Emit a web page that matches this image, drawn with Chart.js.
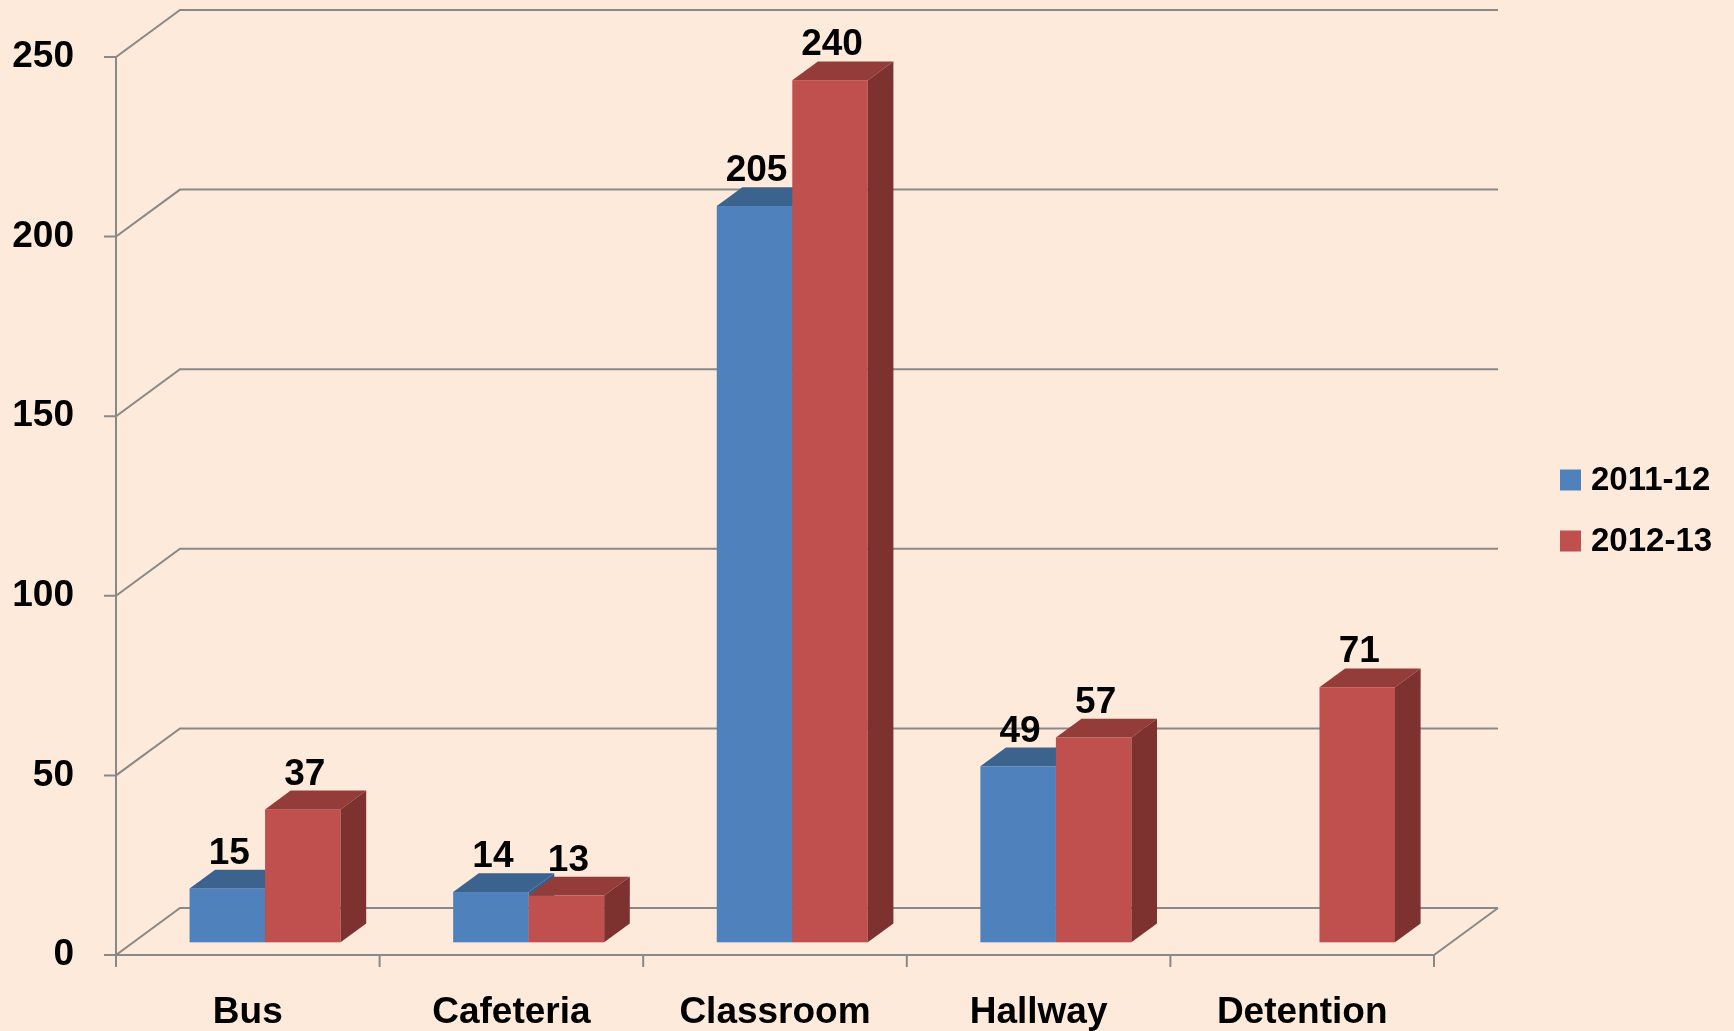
<!DOCTYPE html>
<html>
<head>
<meta charset="utf-8">
<script src="https://cdn.jsdelivr.net/npm/chart.js@4.4.1/dist/chart.umd.min.js"></script>
<style>
  html, body { margin: 0; padding: 0; background: #fdeada; }
  canvas { display: block; }
</style>
</head>
<body>
<canvas id="incidentChart" width="1734" height="1031"></canvas>
<script>
const locations = ['Bus', 'Cafeteria', 'Classroom', 'Hallway', 'Detention'];
const year2011 = [15, 14, 205, 49, null];
const year2012 = [37, 13, 240, 57, 71];
const seriesNames = ['2011-12', '2012-13'];
const yTicks = [0, 50, 100, 150, 200, 250];

const FONT = '"Liberation Sans", Arial, sans-serif';
const GRID = '#898989';
const DEPTH_X = 64, DEPTH_Y = 47;      // floor depth of the 3d box
const BAR_FRONT = 0.27, BAR_DEPTH = 0.4; // where bars sit inside that depth

const faces = [
    { front: '#4f81bd', top: '#3c628e', side: '#385d8a' },
    { front: '#c0504d', top: '#933c3a', side: '#7d3230' }
];

// draws the walls, the boxes and the value labels instead of the flat bars
const box3d = {
    id: 'box3d',
    beforeDatasetsDraw(chart) {
        const ctx = chart.ctx;
        const area = chart.chartArea;
        const xs = chart.scales.x, ys = chart.scales.y;
        const base = ys.getPixelForValue(0);

        ctx.save();
        ctx.strokeStyle = GRID;
        ctx.lineWidth = 2;
        ctx.beginPath();
        yTicks.forEach(v => {
            const py = ys.getPixelForValue(v);
            ctx.moveTo(area.left - 12, py);
            ctx.lineTo(area.left, py);
            ctx.lineTo(area.left + DEPTH_X, py - DEPTH_Y);
            ctx.lineTo(area.right + DEPTH_X, py - DEPTH_Y);
        });
        ctx.moveTo(area.left, ys.getPixelForValue(yTicks[yTicks.length - 1]));
        ctx.lineTo(area.left, base);
        ctx.lineTo(area.right, base);
        ctx.lineTo(area.right + DEPTH_X, base - DEPTH_Y);
        for (let i = 0; i <= locations.length; i++) {
            const px = xs.getPixelForValue(i - 0.5);
            ctx.moveTo(px, base);
            ctx.lineTo(px, base + 12);
        }
        ctx.stroke();

        const sx = BAR_FRONT * DEPTH_X, sy = BAR_FRONT * DEPTH_Y;
        const bx = BAR_DEPTH * DEPTH_X, by = BAR_DEPTH * DEPTH_Y;
        const labels = [];

        locations.forEach((_, i) => {
            chart.data.datasets.forEach((ds, d) => {
                if (ds.data[i] == null) return;
                const el = chart.getDatasetMeta(d).data[i];
                const x0 = el.x - el.width / 2 + sx;
                const x1 = el.x + el.width / 2 + sx;
                const yt = el.y - sy;
                const yb = el.base - sy;
                const c = faces[d];

                ctx.fillStyle = c.front;
                ctx.fillRect(x0, yt, x1 - x0, yb - yt);

                ctx.fillStyle = c.top;
                ctx.beginPath();
                ctx.moveTo(x0, yt);
                ctx.lineTo(x1, yt);
                ctx.lineTo(x1 + bx, yt - by);
                ctx.lineTo(x0 + bx, yt - by);
                ctx.closePath();
                ctx.fill();

                ctx.fillStyle = c.side;
                ctx.beginPath();
                ctx.moveTo(x1, yt);
                ctx.lineTo(x1 + bx, yt - by);
                ctx.lineTo(x1 + bx, yb - by);
                ctx.lineTo(x1, yb);
                ctx.closePath();
                ctx.fill();

                labels.push({ text: String(ds.data[i]), x: (x0 + x1) / 2 + 2, y: yt - by - 6 });
            });
        });

        ctx.fillStyle = '#000';
        ctx.font = 'bold 37px ' + FONT;
        ctx.textAlign = 'center';
        ctx.textBaseline = 'alphabetic';
        labels.forEach(l => ctx.fillText(l.text, l.x, l.y));

        // legend
        ctx.textAlign = 'left';
        ctx.textBaseline = 'middle';
        ctx.font = 'bold 33px ' + FONT;
        seriesNames.forEach((name, d) => {
            const cy = 480 + d * 61;
            ctx.fillStyle = faces[d].front;
            ctx.fillRect(1560, cy - 10.5, 21, 21);
            ctx.fillStyle = '#000';
            ctx.fillText(name, 1591, cy + 1);
        });
        ctx.restore();
        return false;
    }
};

new Chart(document.getElementById('incidentChart'), {
    type: 'bar',
    data: {
        labels: locations,
        datasets: [
            { label: seriesNames[0], data: year2011, backgroundColor: faces[0].front },
            { label: seriesNames[1], data: year2012, backgroundColor: faces[1].front }
        ]
    },
    options: {
        responsive: false,
        animation: false,
        categoryPercentage: 0.573,
        barPercentage: 1,
        layout: { padding: { top: 57, right: 300, left: 0, bottom: 0 } },
        plugins: {
            legend: { display: false },
            tooltip: { enabled: false }
        },
        scales: {
            x: {
                grid: { display: false, drawTicks: false },
                border: { display: false },
                ticks: { color: '#000', font: { family: FONT, size: 37, weight: 'bold' }, padding: 36, maxRotation: 0 },
                afterFit: s => { s.height = 76; }
            },
            y: {
                min: 0,
                max: 250,
                grid: { display: false, drawTicks: false },
                border: { display: false },
                ticks: { stepSize: 50, color: '#000', font: { family: FONT, size: 37, weight: 'bold' }, padding: 42 },
                afterFit: s => {
                    s.width = 116;
                    // tick padding would otherwise push the plot top down
                    s.paddingTop = 0;
                    s.paddingBottom = 0;
                }
            }
        }
    },
    plugins: [box3d]
});
</script>
</body>
</html>
